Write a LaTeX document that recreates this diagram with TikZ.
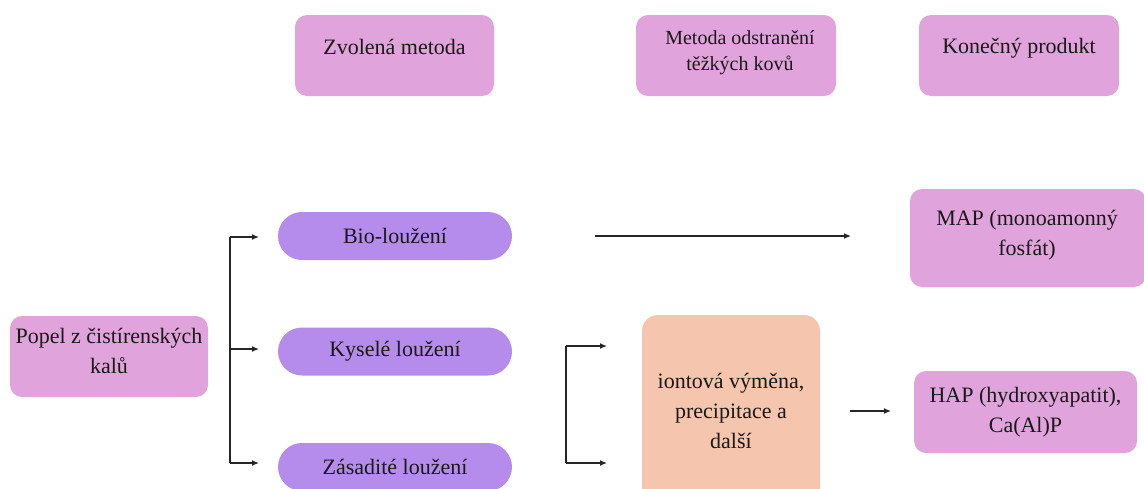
\documentclass[tikz,border=0pt]{standalone}
\usepackage{fontspec}
\setmainfont{Liberation Serif}
\usetikzlibrary{arrows.meta}
\definecolor{pinkbox}{RGB}{224,163,219}
\definecolor{purplebox}{RGB}{181,140,235}
\definecolor{orangebox}{RGB}{245,197,174}
\definecolor{txt}{RGB}{25,25,25}
\tikzset{
  pbox/.style={fill=pinkbox, draw=none, rounded corners=12pt, inner sep=0pt},
  vbox/.style={fill=purplebox, draw=none, rounded corners=24pt, inner sep=0pt, minimum width=234pt, minimum height=48pt},
  obox/.style={fill=orangebox, draw=none, rounded corners=16pt, inner sep=0pt},
  lbl/.style={text=txt, align=center, font=\fontsize{22}{30}\selectfont, inner sep=0pt},
  slbl/.style={text=txt, align=center, font=\fontsize{20}{26}\selectfont, inner sep=0pt},
  arr/.style={-{Latex[length=7pt,width=6pt]}, line width=1.3pt, color=black!85},
  ln/.style={line width=1.3pt, color=black!85},
}
\begin{document}
\begin{tikzpicture}[x=1pt,y=-1pt]
\useasboundingbox (0,0) rectangle (1144,488);
% header boxes
\node[pbox, minimum width=199pt, minimum height=81pt] (zv) at (394.5,55.5) {};
\node[lbl] (zvt) at (394.5,47) {Zvolená metoda};
\node[pbox, minimum width=200pt, minimum height=81pt] (mo) at (736,55.5) {};
\node[slbl] (mot) at (740,53) {Metoda odstranění\\těžkých kovů};
\node[pbox, minimum width=200pt, minimum height=81pt] (kp) at (1019,55.5) {};
\node[lbl] (kpt) at (1019,48) {Konečný produkt};
% source
\node[pbox, minimum width=198pt, minimum height=81pt] (po) at (109,356.5) {};
\node[lbl] (pot) at (109,351) {Popel z čistírenských\\kalů};
% leaching
\node[vbox] (bio) at (395,236) {};
\node[lbl] (biot) at (395,236) {Bio-loužení};
\node[vbox] (ky) at (395,351.5) {};
\node[lbl] (kyt) at (395,351) {Kyselé loužení};
\node[vbox] (za) at (395,467) {};
\node[lbl] (zat) at (395,467) {Zásadité loužení};
% orange
\node[obox, minimum width=178pt, minimum height=192pt] (io) at (731,411) {};
\node[lbl] (iot) at (731,411) {iontová výměna,\\precipitace a\\další};
% products
\node[pbox, minimum width=236pt, minimum height=98pt] (map) at (1028,238) {};
\node[lbl] (mapt) at (1027,235) {MAP (monoamonný\\fosfát)};
\node[pbox, minimum width=223pt, minimum height=82pt] (hap) at (1025.5,412) {};
\node[lbl] (hapt) at (1025.5,412) {HAP (hydroxyapatit),\\Ca(Al)P};
% connectors: bracket from source to leaching methods
\coordinate (b1) at (230,237);
\coordinate (b3) at (230,349);
\coordinate (b2) at (230,463);
\coordinate (e1) at (259,237);
\coordinate (e3) at (259,349);
\coordinate (e2) at (259,463);
\draw[ln] (b1) -- (b2);
\draw[arr] (b1) -- (e1);
\draw[arr] (b3) -- (e3);
\draw[arr] (b2) -- (e2);
% bio to MAP
\coordinate (m1) at (595,236);
\coordinate (m2) at (851,236);
\draw[arr] (m1) -- (m2);
% bracket to ion exchange
\coordinate (c1) at (566,346);
\coordinate (c2) at (566,463);
\coordinate (d1) at (607,346);
\coordinate (d2) at (607,463);
\draw[ln] (c1) -- (c2);
\draw[arr] (c1) -- (d1);
\draw[arr] (c2) -- (d2);
% ion exchange to HAP
\coordinate (h1) at (850,411);
\coordinate (h2) at (891,411);
\draw[arr] (h1) -- (h2);
\end{tikzpicture}
\end{document}
